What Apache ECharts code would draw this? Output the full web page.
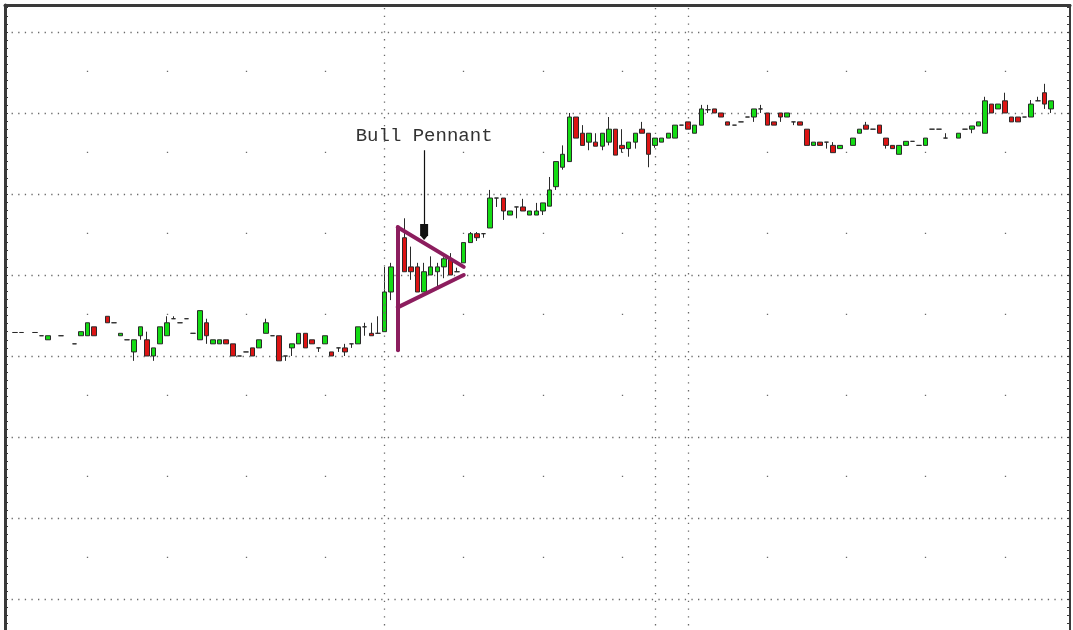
<!DOCTYPE html>
<html>
<head>
<meta charset="utf-8">
<script src="https://cdn.jsdelivr.net/npm/echarts@6/dist/echarts.min.js"></script>
<style>
  html, body { margin: 0; padding: 0; background: #fff; overflow: hidden; height: 630px; }
  #chart { width: 1073px; height: 680px; }
</style>
</head>
<body>
<div id="chart"></div>
<script>
  // daily bars [open, close, low, high], '-' = no bar that day
  const candles = [
    [102.9,102.9,102.9,102.9],[102.9,102.9,102.9,102.9],'-',[102.9,102.9,102.9,102.9],
    [102.5,102.5,102.5,102.5],[102.0,102.5,102.0,102.5],'-',[102.5,102.5,102.5,102.5],
    '-',[101.5,101.5,101.5,101.5],[102.5,103.0,102.5,103.0],[102.5,104.1,102.5,104.1],
    [103.6,102.5,102.5,103.6],'-',[104.9,104.1,104.1,104.9],[104.1,104.1,104.1,104.1],
    [102.5,102.8,102.5,102.8],[102.0,102.0,102.0,102.0],[100.5,102.0,99.4,102.0],
    [102.5,103.6,102.0,103.6],[102.0,100.0,100.0,103.0],[100.0,101.0,99.4,101.0],
    [101.5,103.6,101.5,103.6],[102.5,104.1,102.5,104.9],[104.6,104.6,104.6,104.9],
    [104.1,104.1,104.1,104.1],[104.6,104.6,104.6,104.6],[102.8,102.8,102.8,102.8],
    [102.0,105.6,102.0,105.6],[104.1,102.5,101.5,104.6],[101.5,102.0,101.5,102.0],
    [101.5,102.0,101.5,102.0],[102.0,101.5,101.5,102.0],[101.5,100.0,100.0,101.5],
    [100.0,100.0,100.0,100.0],[100.5,100.5,100.5,100.5],[101.0,100.0,100.0,101.0],
    [101.0,102.0,101.0,102.0],[102.8,104.1,102.8,104.6],[102.5,102.5,102.5,102.5],
    [102.5,99.4,99.4,102.5],[100.0,100.0,99.4,100.0],[101.0,101.5,100.0,101.5],
    [101.5,102.8,101.5,102.8],[102.8,101.0,101.0,102.8],[102.0,101.5,101.5,102.0],
    [101.0,101.0,100.5,101.0],[101.5,102.5,101.5,102.5],[100.5,100.0,100.0,100.5],
    [101.0,101.0,100.5,101.0],[101.0,100.5,100.0,101.5],[101.5,101.5,101.0,101.5],
    [101.5,103.6,101.5,103.6],[103.6,103.6,102.5,104.1],[102.8,102.5,102.5,104.1],
    [102.8,102.8,102.8,104.9],[103.0,107.9,103.0,111.0],[107.9,111.0,106.9,111.5],
    '-',[114.6,110.4,110.4,117.0],[111.0,110.4,109.4,113.5],[111.0,107.9,107.9,111.5],
    [107.9,110.4,107.9,111.5],[110.0,111.0,110.0,112.3],[110.4,111.0,108.6,111.5],
    [111.0,112.0,109.6,112.2],[111.9,110.0,110.0,112.7],[110.4,110.4,110.4,110.9],
    [111.5,114.0,111.5,114.0],[114.0,115.1,114.0,115.3],[115.1,114.6,114.2,115.3],
    [115.1,115.1,114.6,115.1],[115.8,119.5,115.8,120.5],[119.5,119.5,118.4,119.5],
    [119.5,117.9,116.8,119.5],[117.4,117.9,117.4,117.9],[118.4,118.4,117.0,118.4],
    [118.4,117.9,117.9,119.4],[117.4,117.9,117.4,117.9],[117.4,117.9,117.4,118.9],
    [117.9,118.9,117.4,118.9],[118.5,120.5,118.5,122.1],[120.9,124.0,120.5,124.0],
    [123.3,124.9,123.0,126.0],[124.0,129.5,124.0,130.0],[129.5,126.9,126.9,129.5],
    [127.5,126.0,126.0,128.5],[126.4,127.5,125.4,127.5],[126.4,125.9,125.9,127.5],
    [125.9,127.5,125.4,127.5],[126.4,128.0,126.0,129.5],[128.0,124.8,124.8,128.0],
    [126.0,125.6,125.1,128.0],[125.6,126.4,124.6,126.4],[126.4,127.5,125.6,127.5],
    [128.0,127.5,127.5,128.9],[127.5,124.9,123.3,127.5],[126.0,126.9,125.7,126.9],
    [126.4,126.9,126.4,126.9],[126.9,127.5,126.9,127.5],[126.9,128.5,126.9,128.5],
    [128.5,128.5,128.5,128.5],[128.9,128.0,128.0,128.9],[127.5,128.5,127.5,128.5],
    [128.5,130.5,128.5,131.0],[130.4,130.4,130.0,131.0],[130.5,130.0,130.0,130.5],
    [130.0,129.5,129.5,130.0],[128.9,128.5,128.5,128.9],[128.5,128.5,128.5,128.5],
    [128.9,128.9,128.9,128.9],[129.5,129.5,129.5,129.5],[129.5,130.5,128.9,130.5],
    [130.5,130.5,130.0,131.0],[130.0,128.5,128.5,130.0],[128.9,128.5,128.5,128.9],
    [130.0,129.5,128.9,130.0],[129.5,130.0,129.5,130.0],[128.9,128.9,128.5,128.9],
    [128.9,128.5,128.5,128.9],[128.0,126.0,126.0,128.0],[126.0,126.4,126.0,126.4],
    [126.4,126.0,126.0,126.4],[126.4,126.4,125.6,126.4],[126.0,125.1,125.1,126.4],
    [125.6,126.0,125.6,126.0],'-',[126.0,126.9,126.0,126.9],[127.5,128.0,127.5,128.0],
    [128.5,128.0,128.0,128.9],[128.0,128.0,128.0,128.0],[128.5,127.5,127.5,128.5],
    [126.9,126.0,125.6,126.9],[126.0,125.6,125.6,126.0],[124.9,126.0,124.9,126.0],
    [126.0,126.5,126.0,126.5],[126.5,126.5,126.5,126.5],[126.0,126.0,126.0,126.0],
    [126.0,126.9,126.0,126.9],[128.0,128.0,128.0,128.0],[128.0,128.0,128.0,128.0],
    [126.9,126.9,126.9,127.5],'-',[126.9,127.5,126.9,127.5],[128.0,128.0,128.0,128.0],
    [128.0,128.4,127.5,128.4],[128.4,128.9,128.4,128.9],[127.5,131.5,127.5,132.0],
    [131.1,130.0,130.0,131.1],[130.5,131.1,130.5,131.1],[131.5,130.0,130.0,132.5],
    [129.5,128.9,128.9,129.5],[129.5,128.9,128.9,129.5],[129.5,129.5,129.5,129.5],
    [129.5,131.1,129.5,131.6],[131.5,131.5,131.5,132.0],[132.5,131.1,130.5,133.6],
    [130.5,131.5,130.0,131.5]
  ]
  const days = candles.map((d, i) => String(i + 1))

  // price axis
  const PRICE_MIN = 60
  const PRICE_MAX = 143.33
  const PRICE_STEP = 10

  // vertical guides (bar index)
  const fullLines = [56, 97, 102]
  const sparseLines = [11, 23, 35, 47, 68, 80, 92, 114, 126, 138, 150]

  // pennant drawing: [bar index, price] pairs
  const pole = [[58, 115.9], [58, 100.7]]
  const upperEdge = [[58, 115.9], [68, 111.0]]
  const lowerEdge = [[58, 106.0], [68, 110.0]]
  const arrow = [[62, 125.4], [62, 115.3]]
  const labelAt = [62, 127.1]
  const labelText = 'Bull Pennant'

  const PENNANT = '#8c1d5e'
  const DOTS = '#6a6a6a'
  const FRAME = '#3a3a3a'

  const seg = (pts, style, endSymbol) => [
    { coord: [days[pts[0][0]], pts[0][1]], symbol: 'none' },
    { coord: [days[pts[1][0]], pts[1][1]], symbol: endSymbol || 'none', lineStyle: style }
  ]

  const guides = fullLines.map((i) => ({
    xAxis: days[i],
    lineStyle: { color: DOTS, width: 1.3, type: [1.3, 6.5] }
  })).concat(sparseLines.map((i) => ({
    xAxis: days[i],
    lineStyle: { color: DOTS, width: 1.3, type: [1.3, 79.7], dashOffset: 40 }
  })))

  const penStyle = { color: PENNANT, width: 4, type: 'solid', cap: 'round' }
  const arrowStyle = { color: '#111', width: 1.2, type: 'solid' }

  const myChart = echarts.init(document.getElementById('chart'))
  const yCommon = {
    type: 'value',
    min: PRICE_MIN,
    max: PRICE_MAX,
    interval: PRICE_STEP,
    axisLabel: { show: false }
  }
  const option = {
    animation: false,
    backgroundColor: '#fff',
    grid: [
      { left: 11.7, right: 18.7, top: 5, bottom: 0 },
      { left: 5, right: 3, top: 5, bottom: 0 }
    ],
    xAxis: [
      {
        type: 'category',
        gridIndex: 0,
        data: days,
        boundaryGap: true,
        axisLine: { show: false },
        axisTick: { show: false },
        axisLabel: { show: false },
        splitLine: { show: false }
      },
      {
        type: 'value',
        gridIndex: 1,
        position: 'top',
        min: 0,
        max: 1,
        axisLine: { show: true, lineStyle: { color: FRAME, width: 3 } },
        axisTick: { show: false },
        axisLabel: { show: false },
        splitLine: { show: false }
      }
    ],
    yAxis: [
      Object.assign({}, yCommon, {
        gridIndex: 0,
        axisLine: { show: false },
        axisTick: { show: false },
        splitLine: { show: false }
      }),
      Object.assign({}, yCommon, {
        gridIndex: 1,
        position: 'left',
        axisLine: { show: true, lineStyle: { color: FRAME, width: 3 } },
        axisTick: { show: true, inside: true, length: 3, lineStyle: { color: FRAME } },
        minorTick: { show: true, splitNumber: 10, length: 3, lineStyle: { color: FRAME } },
        splitLine: { show: true, lineStyle: { color: DOTS, width: 1.3, type: [1.3, 5.3] } }
      }),
      Object.assign({}, yCommon, {
        gridIndex: 1,
        position: 'right',
        axisLine: { show: true, lineStyle: { color: FRAME, width: 2 } },
        axisTick: { show: true, inside: true, length: 3, lineStyle: { color: FRAME } },
        minorTick: { show: true, splitNumber: 10, length: 3, lineStyle: { color: FRAME } },
        splitLine: { show: false }
      })
    ],
    series: [{
      type: 'candlestick',
      xAxisIndex: 0,
      yAxisIndex: 0,
      data: candles,
      barWidth: 5,
      itemStyle: {
        color: '#14dc14',
        color0: '#dc1414',
        borderColor: '#2a2a2a',
        borderColor0: '#2a2a2a',
        borderColorDoji: '#2a2a2a',
        borderWidth: 1
      },
      markLine: {
        silent: true,
        symbol: ['none', 'none'],
        label: { show: false },
        data: guides.concat([
          seg(pole, penStyle),
          seg(upperEdge, penStyle),
          seg(lowerEdge, penStyle),
          seg(arrow, arrowStyle, 'path://M2,0L4,4L4,13L0,13L0,4Z')
        ])
      },
      markPoint: {
        silent: true,
        symbolSize: 0,
        data: [{
          coord: [days[labelAt[0]], labelAt[1]],
          label: {
            show: true,
            position: 'inside',
            formatter: labelText,
            fontFamily: 'Liberation Mono',
            fontSize: 19,
            color: '#333'
          }
        }]
      }
    }]
  }
  myChart.setOption(option)
</script>
</body>
</html>
